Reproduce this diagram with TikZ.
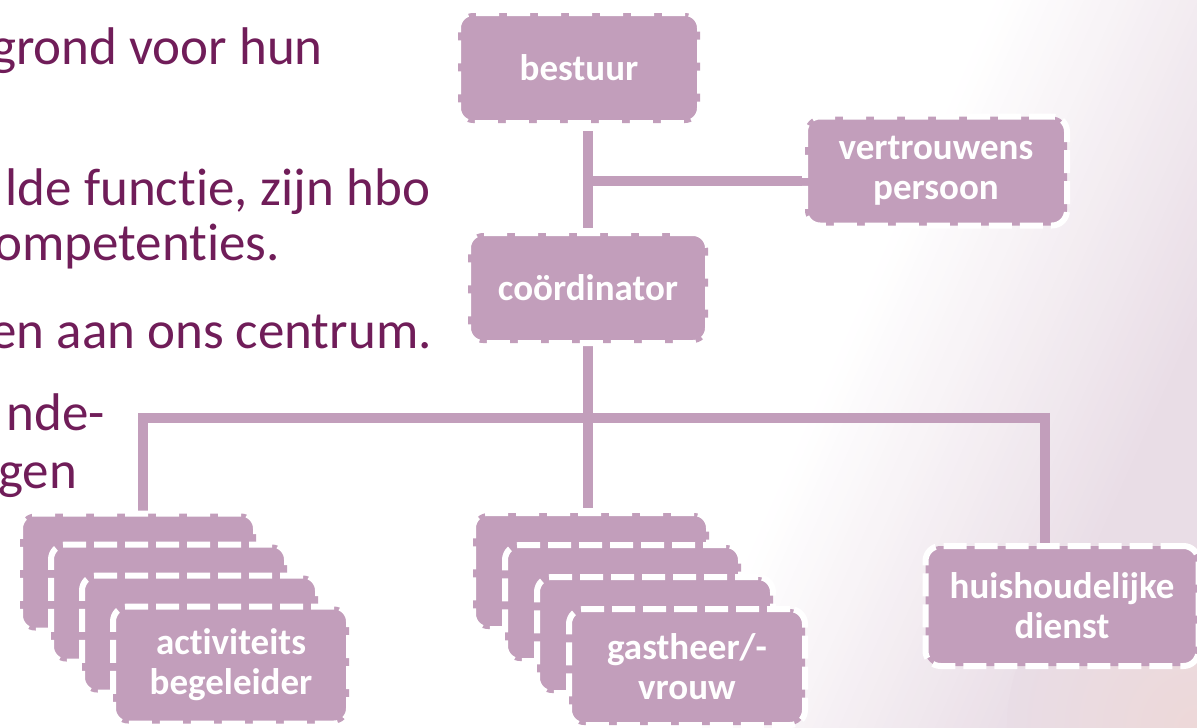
\documentclass[tikz,border=0pt]{standalone}
\usepackage{fontspec}
\setmainfont{Carlito}[Ligatures=NoCommon]
\definecolor{boxfill}{RGB}{194,158,187}
\definecolor{inktext}{RGB}{112,29,89}
\definecolor{haze}{RGB}{233,221,230}
\definecolor{peach}{RGB}{237,216,216}
\pgfdeclarelayer{backdrop}
\pgfdeclarelayer{wires}
\pgfsetlayers{backdrop,wires,main}

\begin{document}
\begin{tikzpicture}[x=1pt,y=-1pt,
  orgbox/.style 2 args={draw=white, fill=boxfill, line width=6pt,
    dash pattern=on 23pt off 8pt, rounded corners=15pt,
    text=white, font=\fontsize{37}{40}\selectfont\bfseries,
    align=center, inner sep=0pt, outer sep=0pt,
    minimum width=#1, minimum height=#2},
  wire/.style={draw=boxfill, line width=10pt, line join=miter},
  bodytext/.style={text=inktext, font=\fontsize{53}{60}\selectfont,
    inner sep=0pt, anchor=base east}]

\useasboundingbox (0,0) rectangle (1197,728);
\clip (0,0) rectangle (1197,728);

% soft mauve wash towards the right
\begin{pgfonlayer}{backdrop}
  \fill[white] (0,0) rectangle (1197,728);
  \begin{scope}[shift={(850,330)}, rotate=-24]
    \foreach \k in {0,...,39} {
      \pgfmathsetmacro{\pct}{(\k+0.5)*2.5}
      \fill[haze!\pct!white] (8*\k,-1500) rectangle (8*\k+8.6,1500);
    }
    \fill[haze] (320,-1500) rectangle (1600,1500);
  \end{scope}
  \shade[inner color=peach, outer color=haze] (1197,728) circle (190);
\end{pgfonlayer}

% body text running in from the left
\node[bodytext] (l1) at (323,64)  {grond voor hun};
\node[bodytext, anchor=base west] (l2) at (5,205)
  {\hbox to 425pt{lde\hfill\ functie,\hfill\ zijn\hfill\ hbo}};
\node[bodytext] (l3) at (280,260) {ompetenties.};
\node[bodytext] (l4) at (432,348) {en aan ons centrum.};
\node[bodytext] (l5) at (105,430) {nde-};
\node[bodytext] (l6) at (77,488)  {gen};

% organisation chart
\node[orgbox={242pt}{110pt}] (bestuur) at (579,68)   {bestuur};
\node[orgbox={262pt}{109pt}] (vert)    at (936,171)  {vertrouwens\\persoon};
\node[orgbox={240pt}{110pt}] (coord)   at (588,288)  {coördinator};

\foreach \i in {1,2,3} {
  \node[orgbox={236pt}{117pt}] (act\i) at (138+31*\i-31,572+31*\i-31) {};
}
\node[orgbox={236pt}{117pt}] (act4) at (231,665) {activiteits\\begeleider};

\foreach \i in {1,2,3} {
  \node[orgbox={236pt}{116pt}] (gst\i) at (591+32*\i-32,571+32*\i-32) {};
}
\node[orgbox={236pt}{116pt}] (gst4) at (687,667) {gastheer/-\\vrouw};

\node[orgbox={273pt}{120pt}] (huis) at (1062,606) {huishoudelijke\\dienst};

% connectors
\coordinate (tee) at (588,181);
\coordinate (jl)  at (143,418);
\coordinate (jr)  at (1045,418);
\begin{pgfonlayer}{wires}
  \draw[wire, shorten <=8pt, shorten >=5pt] (bestuur.south -| coord.north) -- (coord.north);
  \draw[wire] (tee) -- (tee -| vert.west);
  \draw[wire, shorten >=5pt] (coord.south) -- (coord.south |- gst1.north);
  \draw[wire] (jl |- act1.north) -- (jl) -- (jr) -- (jr |- huis.north);
\end{pgfonlayer}
\end{tikzpicture}
\end{document}
